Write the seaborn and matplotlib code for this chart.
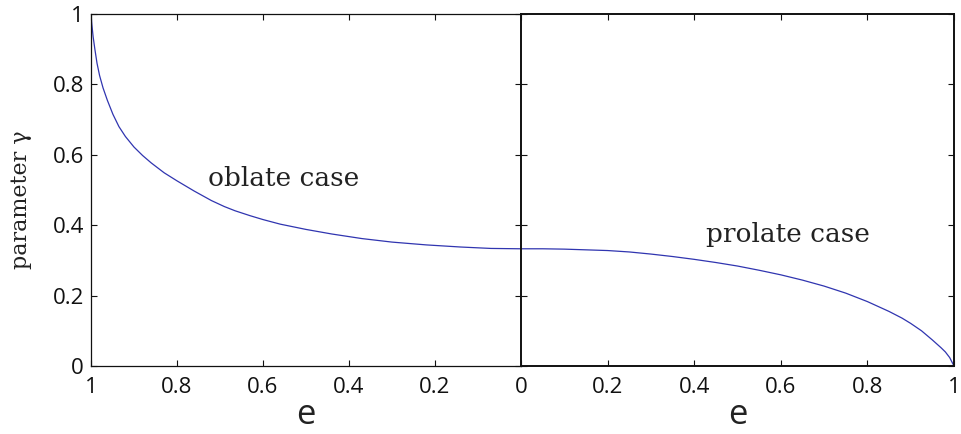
import pandas as pd
import seaborn as sns
import matplotlib.pyplot as plt

# values
oblate_e = [1.0, 0.998, 0.995, 0.991, 0.986, 0.980, 0.972, 0.962, 0.949, 0.935,
            0.92, 0.90, 0.88, 0.86, 0.83, 0.80, 0.76, 0.72, 0.69, 0.665, 0.63,
            0.60, 0.56, 0.50, 0.44, 0.37, 0.30, 0.22, 0.14, 0.07, 0.0]
oblate_gamma = [1.0, 0.970, 0.935, 0.900, 0.860, 0.825, 0.790, 0.755, 0.715, 0.680,
                0.652, 0.622, 0.598, 0.577, 0.549, 0.526, 0.497, 0.470, 0.453, 0.441, 0.427,
                0.416, 0.403, 0.388, 0.375, 0.362, 0.352, 0.344, 0.338, 0.334, 0.333]

prolate_e = [0.0, 0.05, 0.1, 0.15, 0.2, 0.25, 0.3, 0.35, 0.4, 0.45, 0.5, 0.55, 0.6,
             0.65, 0.7, 0.75, 0.8, 0.85, 0.88, 0.9, 0.925, 0.95, 0.97, 0.98, 0.99, 1.0]
prolate_gamma = [0.333, 0.333, 0.332, 0.330, 0.328, 0.324, 0.318, 0.311, 0.303, 0.294,
                 0.284, 0.272, 0.259, 0.244, 0.227, 0.207, 0.183, 0.155, 0.136, 0.121,
                 0.100, 0.074, 0.052, 0.040, 0.024, 0.0]

xticks_left = [1, 0.8, 0.6, 0.4, 0.2, 0]
xticks_right = [0, 0.2, 0.4, 0.6, 0.8, 1]
yticks = [0, 0.2, 0.4, 0.6, 0.8, 1]

df_ob = pd.DataFrame({'e': oblate_e, 'gamma': oblate_gamma})
df_pr = pd.DataFrame({'e': prolate_e, 'gamma': prolate_gamma})

sns.set_style("ticks")
plt.rcParams['font.family'] = ['Open Sans', 'DejaVu Sans']

fig = plt.figure(figsize=(9.62, 4.34), dpi=100)
ax1 = fig.add_axes([91/962, 68/434, 430/962, 352/434])
ax2 = fig.add_axes([521/962, 68/434, 433/962, 352/434])

line_col = '#3035b0'
sns.lineplot(data=df_ob, x='e', y='gamma', ax=ax1, color=line_col, linewidth=0.9)
sns.lineplot(data=df_pr, x='e', y='gamma', ax=ax2, color=line_col, linewidth=0.9)

def tick_labels(v):
    return ['%g' % t for t in v]

for ax, ticks, lw in [(ax1, xticks_left, 0.9), (ax2, xticks_right, 1.4)]:
    ax.set_xlim(0, 1)
    ax.set_ylim(0, 1)
    ax.set_xticks(ticks)
    ax.set_yticks(yticks)
    ax.tick_params(direction='in', length=4, width=0.8, top=True, right=True,
                   labelsize=16, colors='#111111', pad=5)
    ax.tick_params(axis='x', pad=8)
    for s in ax.spines.values():
        s.set_linewidth(lw)
        s.set_color('#111111')
    ax.set_xlabel('e', fontsize=25, color='#222222', labelpad=0)

ax1.invert_xaxis()
left_labels = tick_labels(xticks_left)
left_labels[-1] = ''  # the shared 0 is drawn by the right panel
ax1.set_xticklabels(left_labels)
ax2.set_xticklabels(tick_labels(xticks_right))
ax1.set_yticklabels(tick_labels(yticks))
ax2.set_yticklabels([])
ax2.set_ylabel('')

ax1.set_ylabel('parameter γ', fontsize=16, family=['DejaVu Serif'],
               color='#222222')
ax1.yaxis.set_label_coords(-0.137, 0.473)

ax1.text(0.728, 0.511, 'oblate case', fontsize=19, family=['DejaVu Serif'],
         color='#222222')
ax2.text(0.4266, 0.353, 'prolate case', fontsize=19, family=['DejaVu Serif'],
         color='#222222')

fig.savefig('out.png', dpi=100)
